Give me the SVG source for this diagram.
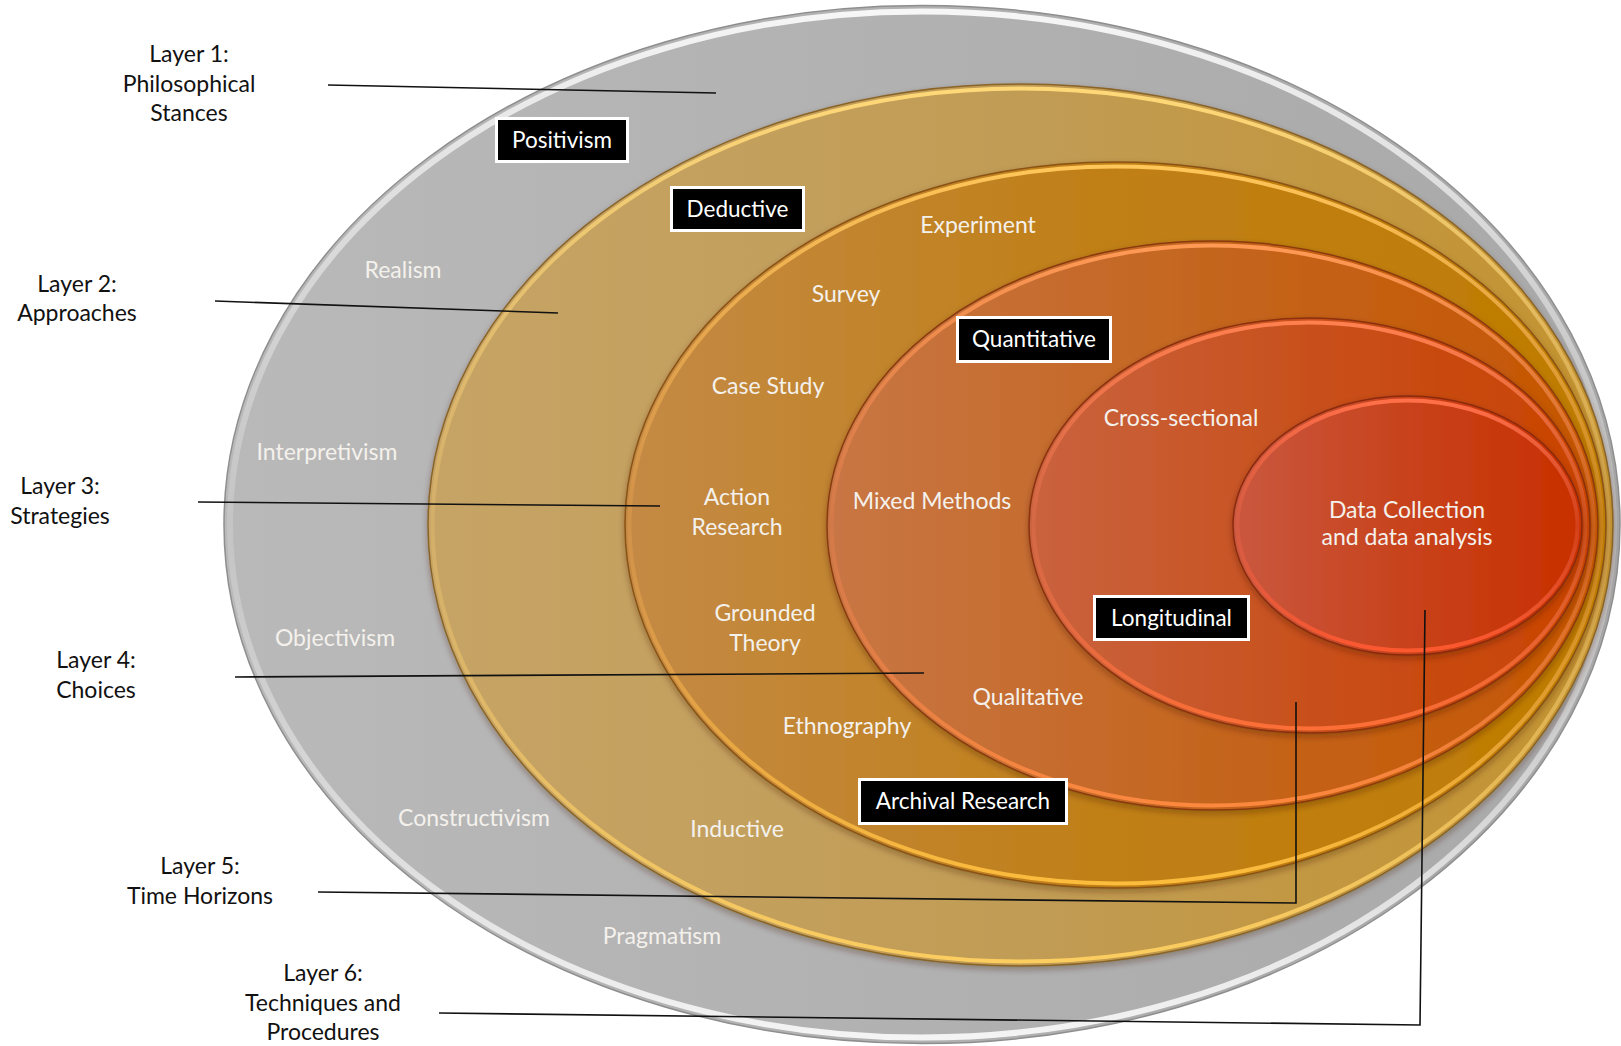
<svg xmlns="http://www.w3.org/2000/svg" width="1621" height="1046" viewBox="0 0 1621 1046">
<style>
.lbl{font-family:Lato,"Liberation Sans",sans-serif;font-size:23px;fill:#111;text-anchor:middle}
.wt{font-family:Lato,"Liberation Sans",sans-serif;font-size:23px;fill:#f4f1ec;text-anchor:middle}
.box{fill:#000;stroke:#fff;stroke-width:3}
.bt{font-family:Lato,"Liberation Sans",sans-serif;font-size:22.5px;fill:#fff;text-anchor:middle}
.ld{fill:none;stroke:#111;stroke-width:1.6}
.rim{fill:none;stroke-width:4}
</style>
<defs>
<filter id="sh" x="-5%" y="-5%" width="110%" height="112%">
<feDropShadow dx="0" dy="3" stdDeviation="3" flood-color="#3a1a00" flood-opacity="0.35"/>
</filter>
<linearGradient id="f1" x1="0" x2="1" y1="0" y2="0"><stop offset="0" stop-color="#b9b9b9"/><stop offset="1" stop-color="#a9a9a9"/></linearGradient>
<linearGradient id="f2" x1="0" x2="1" y1="0" y2="0"><stop offset="0" stop-color="#c6a466"/><stop offset="0.5" stop-color="#c19c55"/><stop offset="1" stop-color="#c4932f"/></linearGradient>
<linearGradient id="f3" x1="0" x2="1" y1="0" y2="0"><stop offset="0" stop-color="#c48a45"/><stop offset="0.45" stop-color="#c0801a"/><stop offset="1" stop-color="#bf7c00"/></linearGradient>
<linearGradient id="f4" x1="0" x2="1" y1="0" y2="0"><stop offset="0" stop-color="#c87645"/><stop offset="0.5" stop-color="#c4651e"/><stop offset="1" stop-color="#c55600"/></linearGradient>
<linearGradient id="f5" x1="0" x2="1" y1="0" y2="0"><stop offset="0" stop-color="#c9633f"/><stop offset="0.5" stop-color="#c8501c"/><stop offset="1" stop-color="#c94300"/></linearGradient>
<linearGradient id="f6" x1="0" x2="1" y1="0" y2="0"><stop offset="0" stop-color="#c9583f"/><stop offset="0.5" stop-color="#c8421c"/><stop offset="1" stop-color="#c83000"/></linearGradient>
<linearGradient id="r1" x1="0" x2="0" y1="0" y2="1"><stop offset="0" stop-color="#f6f6f6" stop-opacity="1"/><stop offset="0.5" stop-color="#d2d2d2" stop-opacity="0.45"/><stop offset="1" stop-color="#f4f4f4" stop-opacity="1"/></linearGradient>
<linearGradient id="r2" x1="0" x2="0" y1="0" y2="1"><stop offset="0" stop-color="#ffd978" stop-opacity="1"/><stop offset="0.5" stop-color="#e8c070" stop-opacity="0.35"/><stop offset="1" stop-color="#ffd060" stop-opacity="0.95"/></linearGradient>
<linearGradient id="r3" x1="0" x2="0" y1="0" y2="1"><stop offset="0" stop-color="#ffc65a" stop-opacity="1"/><stop offset="0.5" stop-color="#e8a050" stop-opacity="0.35"/><stop offset="1" stop-color="#ffc040" stop-opacity="0.95"/></linearGradient>
<linearGradient id="r4" x1="0" x2="0" y1="0" y2="1"><stop offset="0" stop-color="#ff9a55" stop-opacity="1"/><stop offset="0.5" stop-color="#e88050" stop-opacity="0.35"/><stop offset="1" stop-color="#ff8a40" stop-opacity="0.95"/></linearGradient>
<linearGradient id="r5" x1="0" x2="0" y1="0" y2="1"><stop offset="0" stop-color="#ff8050" stop-opacity="1"/><stop offset="0.5" stop-color="#e87050" stop-opacity="0.35"/><stop offset="1" stop-color="#ff7038" stop-opacity="0.95"/></linearGradient>
<linearGradient id="r6" x1="0" x2="0" y1="0" y2="1"><stop offset="0" stop-color="#ff7048" stop-opacity="1"/><stop offset="0.5" stop-color="#e86048" stop-opacity="0.35"/><stop offset="1" stop-color="#ff5a30" stop-opacity="0.95"/></linearGradient>
</defs>

<g id="layer1-ellipse">
<ellipse cx="922" cy="524.5" rx="698" ry="519" fill="url(#f1)" stroke="#8e8e8e" stroke-width="1.5"/>
<ellipse cx="922" cy="524.5" rx="692" ry="513" fill="none" stroke="url(#r1)" stroke-width="6"/>
</g>
<g id="layer2-ellipse" filter="url(#sh)">
<ellipse cx="1020.5" cy="525" rx="592.5" ry="441" fill="url(#f2)" stroke="#8a6428" stroke-width="1.5"/>
<ellipse class="rim" cx="1020.5" cy="525" rx="588" ry="436.5" stroke="url(#r2)"/>
</g>
<g id="layer3-ellipse" filter="url(#sh)">
<ellipse cx="1115.5" cy="525" rx="490.5" ry="363" fill="url(#f3)" stroke="#8a5214" stroke-width="1.5"/>
<ellipse class="rim" cx="1115.5" cy="525" rx="486" ry="358.5" stroke="url(#r3)"/>
</g>
<g id="layer4-ellipse" filter="url(#sh)">
<ellipse cx="1212.5" cy="525.5" rx="385.5" ry="284.5" fill="url(#f4)" stroke="#8a3a10" stroke-width="1.5"/>
<ellipse class="rim" cx="1212.5" cy="525.5" rx="381" ry="280" stroke="url(#r4)"/>
</g>
<g id="layer5-ellipse" filter="url(#sh)">
<ellipse cx="1309.5" cy="525.5" rx="280.5" ry="207.5" fill="url(#f5)" stroke="#8a3010" stroke-width="1.5"/>
<ellipse class="rim" cx="1309.5" cy="525.5" rx="276" ry="203" stroke="url(#r5)"/>
</g>
<g id="layer6-ellipse" filter="url(#sh)">
<ellipse cx="1407.5" cy="525.5" rx="174.5" ry="129.5" fill="url(#f6)" stroke="#8a2a10" stroke-width="1.5"/>
<ellipse class="rim" cx="1407.5" cy="525.5" rx="170" ry="125" stroke="url(#r6)"/>
</g>

<g id="connectors">
<path class="ld" d="M328,85 L716,93"/>
<path class="ld" d="M215,301 L558,313"/>
<path class="ld" d="M198,502 L660,506"/>
<path class="ld" d="M235,677 L924,673"/>
<path class="ld" d="M318,892 L1296,903 L1296,702"/>
<path class="ld" d="M439,1013 L1420,1025 L1425,610"/>
</g>

<g id="label-layer1"><text class="lbl" x="189" y="62">Layer 1:</text><text class="lbl" x="189" y="92">Philosophical</text><text class="lbl" x="189" y="121">Stances</text></g>
<g id="label-layer2"><text class="lbl" x="77" y="292">Layer 2:</text><text class="lbl" x="77" y="321">Approaches</text></g>
<g id="label-layer3"><text class="lbl" x="60" y="494">Layer 3:</text><text class="lbl" x="60" y="524">Strategies</text></g>
<g id="label-layer4"><text class="lbl" x="96" y="668">Layer 4:</text><text class="lbl" x="96" y="698">Choices</text></g>
<g id="label-layer5"><text class="lbl" x="200" y="874">Layer 5:</text><text class="lbl" x="200" y="904">Time Horizons</text></g>
<g id="label-layer6"><text class="lbl" x="323" y="981">Layer 6:</text><text class="lbl" x="323" y="1011">Techniques and</text><text class="lbl" x="323" y="1040">Procedures</text></g>

<g id="realism"><text class="wt" x="403" y="278">Realism</text></g>
<g id="interpretivism"><text class="wt" x="327" y="460">Interpretivism</text></g>
<g id="objectivism"><text class="wt" x="335" y="646">Objectivism</text></g>
<g id="constructivism"><text class="wt" x="474" y="826">Constructivism</text></g>
<g id="pragmatism"><text class="wt" x="662" y="944">Pragmatism</text></g>
<g id="inductive"><text class="wt" x="737" y="837">Inductive</text></g>
<g id="experiment"><text class="wt" x="978" y="233">Experiment</text></g>
<g id="survey"><text class="wt" x="846" y="302">Survey</text></g>
<g id="case-study"><text class="wt" x="768" y="394">Case Study</text></g>
<g id="action-research"><text class="wt" x="737" y="505">Action</text><text class="wt" x="737" y="535">Research</text></g>
<g id="grounded-theory"><text class="wt" x="765" y="621">Grounded</text><text class="wt" x="765" y="651">Theory</text></g>
<g id="ethnography"><text class="wt" x="847" y="734">Ethnography</text></g>
<g id="mixed-methods"><text class="wt" x="932" y="509">Mixed Methods</text></g>
<g id="qualitative"><text class="wt" x="1028" y="705">Qualitative</text></g>
<g id="cross-sectional"><text class="wt" x="1181" y="426">Cross-sectional</text></g>
<g id="data-collection"><text class="wt" x="1407" y="518">Data Collection</text><text class="wt" x="1407" y="545">and data analysis</text></g>

<g id="positivism"><rect class="box" x="496.5" y="118.5" width="131" height="43"/><text class="bt" x="562" y="148">Positivism</text></g>
<g id="deductive"><rect class="box" x="671.5" y="187.5" width="132" height="43"/><text class="bt" x="737.5" y="217">Deductive</text></g>
<g id="quantitative"><rect class="box" x="957.5" y="317.5" width="153" height="44"/><text class="bt" x="1034" y="347">Quantitative</text></g>
<g id="longitudinal"><rect class="box" x="1094.5" y="596.5" width="154" height="43"/><text class="bt" x="1171.5" y="626">Longitudinal</text></g>
<g id="archival-research"><rect class="box" x="859.5" y="779.5" width="207" height="44"/><text class="bt" x="963" y="809">Archival Research</text></g>
</svg>
